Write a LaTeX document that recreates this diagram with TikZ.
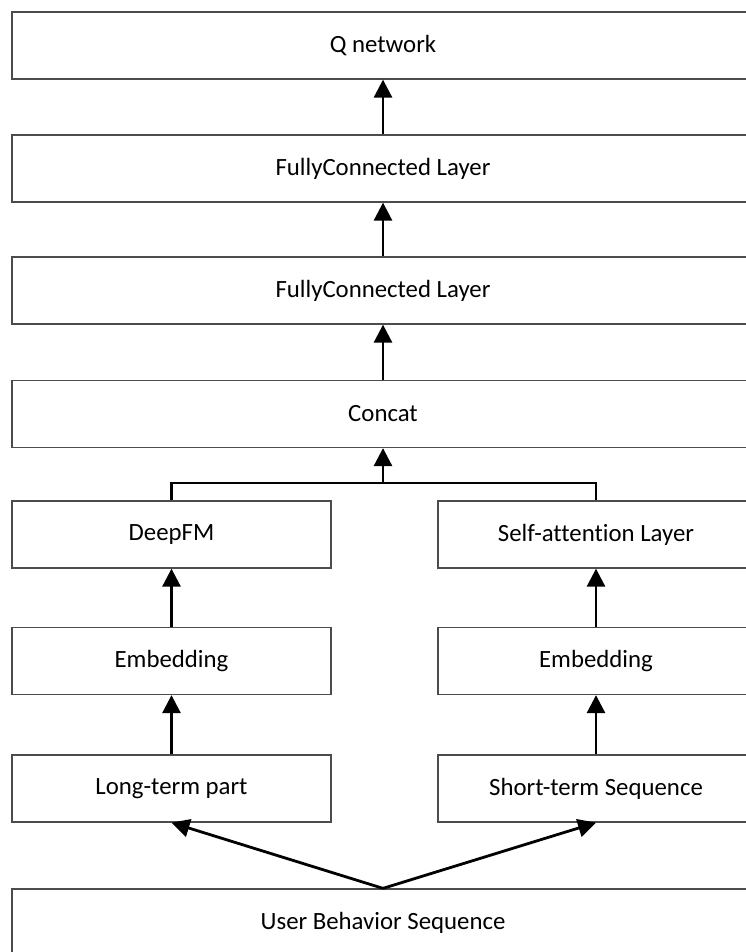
\documentclass[tikz,border=0pt]{standalone}
\usepackage{fontspec}
\setmainfont{Carlito}[Ligatures=NoCommon]
\usetikzlibrary{arrows.meta}
\begin{document}
\begin{tikzpicture}[x=1pt,y=-1pt,
  box/.style={draw=black!70,line width=1.3pt,fill=white,inner sep=0pt,
    minimum height=67pt,font=\fontsize{24.8}{29}\selectfont},
  wide/.style={box,minimum width=742pt},
  narrow/.style={box,minimum width=319pt},
  link/.style={line width=2.8pt,-{Triangle[length=18pt,width=18pt]}},
  plain/.style={line width=2.8pt}]
\useasboundingbox (0,0) rectangle (746,952);
\clip (0,0) rectangle (746,952);
\fill[white] (0,0) rectangle (746,952);

% stacked layers
\node[wide] (q) at (383,45.5) {Q network};
\node[wide] (fc1) at (383,168.5) {FullyConnected Layer};
\node[wide] (fc2) at (383,290.5) {FullyConnected Layer};
\node[wide] (cat) at (383,414) {Concat};

% two branches
\node[narrow] (dfm) at (171.5,534.5) {DeepFM};
\node[narrow,minimum width=316pt] (att) at (596,534.5) {Self-attention Layer};
\node[narrow] (embl) at (171.5,661) {Embedding};
\node[narrow,minimum width=316pt] (embr) at (596,661) {Embedding};
\node[narrow] (long) at (171.5,788.5) {Long-term part};
\node[narrow,minimum width=316pt] (short) at (596,788.5) {Short-term Sequence};

% input
\node[wide] (ubs) at (383,922.5) {User Behavior Sequence};

% connectors
\draw[link] (fc1.north) -- (q.south);
\draw[link] (fc2.north) -- (fc1.south);
\draw[link] (cat.north) -- (fc2.south);
\coordinate (join) at (383,483);
\draw[plain] (dfm.north) |- (join) -| (att.north);
\draw[link] (join) -- (cat.south);
\draw[link] (embl.north) -- (dfm.south);
\draw[link] (embr.north) -- (att.south);
\draw[link] (long.north) -- (embl.south);
\draw[link] (short.north) -- (embr.south);
\draw[link] (ubs.north) -- (long.south);
\draw[link] (ubs.north) -- (short.south);
\end{tikzpicture}
\end{document}
